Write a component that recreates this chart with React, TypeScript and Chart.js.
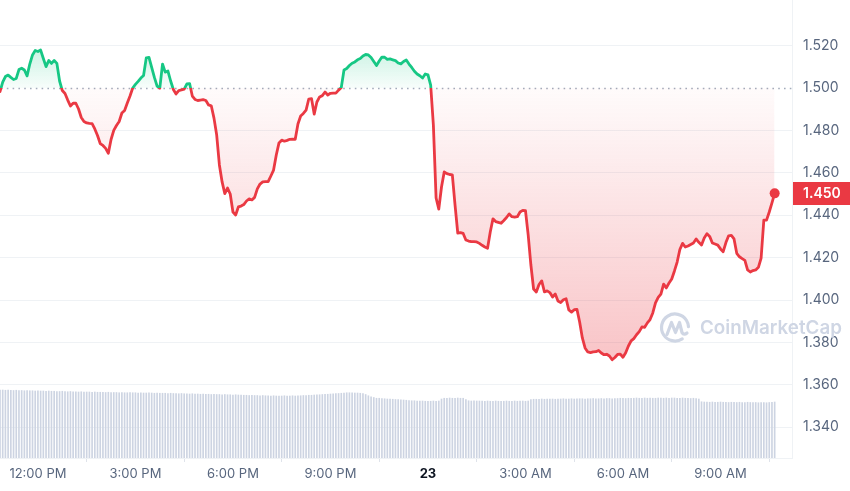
import React, { useEffect, useRef } from 'react';
import { Chart, registerables } from 'chart.js';

Chart.register(...registerables);

// 5-minute price samples, from 10:50 AM (day 22) to 10:40 AM (day 23)
const prices: number[] = [
  1.4983, 1.5028, 1.5054, 1.5061, 1.5050, 1.5040, 1.5045, 1.5087, 1.5093, 1.5085,
  1.5057, 1.5113, 1.5156, 1.5177, 1.5172, 1.5179, 1.5139, 1.5101, 1.5130, 1.5116,
  1.5130, 1.5116, 1.5033, 1.4988, 1.4974, 1.4943, 1.4915, 1.4928, 1.4928, 1.4901,
  1.4861, 1.4842, 1.4835, 1.4833, 1.4832, 1.4807, 1.4776, 1.4738, 1.4729, 1.4715,
  1.4692, 1.4757, 1.4800, 1.4823, 1.4842, 1.4882, 1.4894, 1.4929, 1.4962, 1.5000,
  1.5017, 1.5031, 1.5047, 1.5059, 1.5142, 1.5144, 1.5097, 1.5050, 1.5009, 1.4999,
  1.5113, 1.5075, 1.5080, 1.5033, 1.4993, 1.4972, 1.4988, 1.4991, 1.4995, 1.5019,
  1.5021, 1.4962, 1.4946, 1.4941, 1.4943, 1.4945, 1.4941, 1.4920, 1.4916, 1.4858,
  1.4778, 1.4637, 1.4557, 1.4502, 1.4528, 1.4500, 1.4415, 1.4401, 1.4439, 1.4443,
  1.4450, 1.4467, 1.4477, 1.4472, 1.4484, 1.4524, 1.4547, 1.4557, 1.4558, 1.4558,
  1.4585, 1.4613, 1.4684, 1.4741, 1.4754, 1.4749, 1.4753, 1.4758, 1.4759, 1.4758,
  1.4830, 1.4868, 1.4880, 1.4896, 1.4948, 1.4950, 1.4877, 1.4934, 1.4958, 1.4964,
  1.4981, 1.4967, 1.4975, 1.4976, 1.4976, 1.4990, 1.5002, 1.5085, 1.5092, 1.5106,
  1.5117, 1.5123, 1.5133, 1.5139, 1.5151, 1.5158, 1.5156, 1.5144, 1.5125, 1.5106,
  1.5127, 1.5146, 1.5145, 1.5135, 1.5137, 1.5133, 1.5129, 1.5118, 1.5114, 1.5125,
  1.5132, 1.5113, 1.5097, 1.5079, 1.5066, 1.5058, 1.5047, 1.5066, 1.5062, 1.5014,
  1.4825, 1.4481, 1.4429, 1.4533, 1.4604, 1.4596, 1.4592, 1.4590, 1.4448, 1.4316,
  1.4318, 1.4314, 1.4283, 1.4278, 1.4275, 1.4275, 1.4274, 1.4267, 1.4258, 1.4250,
  1.4244, 1.4321, 1.4383, 1.4370, 1.4366, 1.4362, 1.4375, 1.4389, 1.4406, 1.4393,
  1.4391, 1.4393, 1.4415, 1.4423, 1.4422, 1.4307, 1.4165, 1.4052, 1.4038, 1.4073,
  1.4090, 1.4038, 1.4043, 1.4035, 1.4014, 1.4028, 1.3995, 1.3988, 1.4001, 1.4006,
  1.3953, 1.3943, 1.3954, 1.3956, 1.3896, 1.3821, 1.3774, 1.3755, 1.3752, 1.3755,
  1.3756, 1.3762, 1.3750, 1.3742, 1.3744, 1.3736, 1.3718, 1.3729, 1.3743, 1.3745,
  1.3730, 1.3751, 1.3783, 1.3807, 1.3818, 1.3836, 1.3851, 1.3873, 1.3871, 1.3892,
  1.3908, 1.3939, 1.3986, 1.4012, 1.4028, 1.4075, 1.4057, 1.4080, 1.4099, 1.4137,
  1.4179, 1.4238, 1.4267, 1.4250, 1.4255, 1.4262, 1.4269, 1.4288, 1.4272, 1.4259,
  1.4292, 1.4313, 1.4300, 1.4269, 1.4264, 1.4259, 1.4241, 1.4228, 1.4271, 1.4303,
  1.4305, 1.4288, 1.4220, 1.4204, 1.4195, 1.4187, 1.4142, 1.4132, 1.4139, 1.4142,
  1.4154, 1.4198, 1.4377, 1.4377, 1.4415, 1.4458, 1.4503,
];

// 5-minute volume samples (millions), same timestamps
const volumes: number[] = [
  27.2, 27.2, 27.1, 27.2, 27.1, 27.0, 27.1, 27.0, 27.0, 26.9, 27.0, 26.9, 26.9, 26.8, 26.9, 26.8, 26.8, 26.7, 26.8, 26.7,
  26.7, 26.6, 26.6, 26.7, 26.6, 26.5, 26.6, 26.5, 26.5, 26.4, 26.5, 26.4, 26.4, 26.4, 26.3, 26.4, 26.3, 26.3, 26.3, 26.2,
  26.3, 26.2, 26.2, 26.2, 26.1, 26.2, 26.1, 26.1, 26.2, 26.1, 26.1, 26.0, 26.1, 26.0, 26.0, 26.1, 26.0, 25.9, 26.0, 25.9,
  25.9, 25.9, 25.8, 25.9, 25.8, 25.8, 25.7, 25.8, 25.7, 25.7, 25.6, 25.7, 25.6, 25.6, 25.5, 25.6, 25.5, 25.5, 25.4, 25.5,
  25.4, 25.4, 25.3, 25.4, 25.3, 25.3, 25.2, 25.3, 25.2, 25.2,
  25.1, 25.1, 25.0, 25.1, 25.0, 25.0, 24.9, 25.0, 24.9, 24.9, 24.8, 24.9, 24.8, 24.8, 24.8, 24.9, 24.8, 24.8, 24.9, 24.8,
  24.9, 24.9, 25.0,
  25.0, 25.1, 25.1, 25.2, 25.3, 25.3, 25.4, 25.5, 25.5, 25.6, 25.7, 25.8, 25.8, 25.9, 26.0, 26.1,
  26.1, 26.1, 26.0, 26.0, 25.9, 25.8,
  25.4, 24.9, 24.5, 24.2,
  23.9, 23.9, 23.8, 23.7, 23.6, 23.6, 23.5, 23.4, 23.4, 23.3, 23.2, 23.1,
  23.0, 22.9, 22.9, 22.8, 22.8, 22.8, 22.7, 22.7, 22.7, 22.8, 22.7, 22.8,
  23.6, 23.9, 23.9, 24.0, 23.9, 23.9, 24.0, 23.9, 23.9, 23.4,
  22.9, 22.8, 22.9, 22.8, 22.8, 22.8, 22.7, 22.8, 22.7, 22.7, 22.8, 22.7, 22.7, 22.7, 22.8, 22.7, 22.7, 22.8, 22.7, 22.8,
  22.8, 22.7, 22.8,
  23.4, 23.5, 23.5, 23.5, 23.6, 23.5, 23.6, 23.6, 23.6, 23.5, 23.6, 23.6, 23.7, 23.6, 23.6, 23.7, 23.6, 23.7, 23.7, 23.7,
  23.6, 23.7, 23.7, 23.8, 23.7, 23.7, 23.8, 23.7, 23.8, 23.8, 23.7, 23.8, 23.8,
  23.9, 23.9, 23.8, 23.9, 23.9, 23.9, 24.0, 23.9, 23.9, 24.0, 23.9, 24.0, 23.9, 23.9, 24.0, 24.0, 23.9, 24.0, 23.9, 24.0,
  24.0, 23.9, 23.9, 24.0, 23.9, 23.9, 23.8, 23.9, 23.8, 23.6,
  22.5, 22.4, 22.4, 22.3, 22.4, 22.3, 22.3, 22.4, 22.3, 22.3, 22.2, 22.3, 22.3, 22.2, 22.3, 22.2, 22.2, 22.3, 22.2, 22.2,
  22.2, 22.1, 22.2, 22.2, 22.1, 22.2, 22.3, 22.4,
];

// x tick positions (sample index) and their labels
const tickIndex: number[] = [14, 50, 86, 122, 158, 194, 230, 266];
const tickLabels: string[] = ['12:00 PM', '3:00 PM', '6:00 PM', '9:00 PM', '23', '3:00 AM', '6:00 AM', '9:00 AM'];
const dayTick = '23';
const priceTicks: number[] = [1.34, 1.36, 1.38, 1.4, 1.42, 1.44, 1.46, 1.48, 1.5, 1.52];
const baseline = 1.5;

const GREEN = '#16c784';
const RED = '#ea3943';
const AXIS_TEXT = '#58667e';
const GRID = '#eff2f5';
const WATERMARK = '#cfd6e4';

export default function App() {
  const ref = useRef<HTMLCanvasElement>(null);

  useEffect(() => {
    document.body.style.margin = '0';
    const canvas = ref.current;
    if (!canvas) return;
    Chart.defaults.font.family = 'Inter, "Noto Sans", sans-serif';
    const last = prices.length - 1;

    const cmcPlugin = {
      id: 'cmcDecor',
      beforeDatasetsDraw(chart: any) {
        const { ctx, chartArea, scales } = chart;
        const yb = Math.round(scales.y.getPixelForValue(baseline)) + 0.5;
        ctx.save();
        ctx.strokeStyle = '#a3acbb';
        ctx.lineWidth = 1.4;
        ctx.setLineDash([1.6, 4.2]);
        ctx.beginPath();
        ctx.moveTo(chartArea.left + 1, yb);
        ctx.lineTo(chartArea.right, yb);
        ctx.stroke();
        ctx.restore();

        // watermark
        ctx.save();
        const cx = 675, cy = 327.5, r = 13.5;
        ctx.strokeStyle = WATERMARK;
        ctx.lineWidth = 3.2;
        ctx.lineCap = 'round';
        ctx.lineJoin = 'round';
        ctx.beginPath();
        ctx.arc(cx, cy, r, 0.32 * Math.PI, 1.98 * Math.PI);
        ctx.stroke();
        ctx.beginPath();
        ctx.moveTo(cx - 8, cy + 7);
        ctx.lineTo(cx - 3.5, cy - 5);
        ctx.lineTo(cx + 0.5, cy + 5);
        ctx.lineTo(cx + 4.5, cy - 5);
        ctx.lineTo(cx + 7, cy + 5);
        ctx.quadraticCurveTo(cx + 9, cy + 8, cx + 12, cy + 5.5);
        ctx.stroke();
        const text = 'CoinMarketCap';
        ctx.font = '600 18px Inter, sans-serif';
        const w = ctx.measureText(text).width;
        const size = 18 * 142 / w;
        ctx.font = `600 ${size.toFixed(2)}px Inter, sans-serif`;
        ctx.fillStyle = WATERMARK;
        ctx.textBaseline = 'middle';
        ctx.fillText(text, 700, 328);
        ctx.restore();
      },
      afterDraw(chart: any) {
        const { ctx, chartArea, scales } = chart;
        const v = prices[last];
        const y = scales.y.getPixelForValue(v);
        ctx.save();
        ctx.fillStyle = RED;
        ctx.fillRect(chartArea.right + 1, Math.round(y - 11.5), 850 - chartArea.right - 1, 23);
        ctx.fillStyle = '#ffffff';
        ctx.font = '600 14px Inter, sans-serif';
        ctx.textBaseline = 'middle';
        ctx.fillText(v.toFixed(3), chartArea.right + 11, y + 0.5);
        ctx.restore();
      },
    };

    const chart = new Chart(canvas, {
      type: 'line',
      data: {
        datasets: [
          {
            type: 'line',
            data: prices.map((p, i) => ({ x: i, y: p })),
            borderColor: GREEN,
            borderWidth: 2.8,
            tension: 0,
            borderJoinStyle: 'round',
            borderCapStyle: 'round',
            pointRadius: (c: any) => (c.dataIndex === last ? 5 : 0),
            pointBackgroundColor: RED,
            pointBorderWidth: 0,
            pointHoverRadius: 0,
            fill: { value: baseline, above: 'rgba(22,199,132,0.1)', below: 'rgba(234,57,67,0.1)' },
            yAxisID: 'y',
            order: 0,
            clip: false,
          } as any,
          {
            type: 'bar',
            data: volumes.map((v, i) => ({ x: i, y: v })),
            backgroundColor: '#cdd4e2',
            barThickness: 1,
            yAxisID: 'y1',
            order: 1,
          } as any,
        ],
      },
      options: {
        responsive: false,
        animation: false,
        events: [],
        layout: { padding: 0, autoPadding: false },
        plugins: { legend: { display: false }, tooltip: { enabled: false } },
        scales: {
          x: {
            type: 'linear',
            min: 0,
            max: 292.4,
            offset: false,
            grid: { drawOnChartArea: false, drawTicks: true, tickLength: 4, color: '#dfe3ea' },
            border: { display: true, color: GRID },
            afterBuildTicks: (axis: any) => {
              axis.ticks = tickIndex.map((v) => ({ value: v }));
            },
            afterFit: (scale: any) => {
              scale.height = 33;
              scale.paddingLeft = 0;
              scale.paddingRight = 0;
            },
            ticks: {
              autoSkip: false,
              maxRotation: 0,
              padding: 4,
              callback: (_v: any, i: number) => tickLabels[i],
              color: (c: any) => (c.tick && tickLabels[c.index] === dayTick ? '#0d1421' : AXIS_TEXT),
              font: (c: any) =>
                c.tick && tickLabels[c.index] === dayTick
                  ? { size: 13, weight: 'bold' }
                  : { size: 13, weight: 'normal' },
            },
          },
          y: {
            type: 'linear',
            position: 'right',
            min: 1.5 - (458 - 88) / 2120,
            max: 1.5 + 88 / 2120,
            grid: {
              drawTicks: false,
              color: (c: any) => (c.tick && Math.abs(c.tick.value - baseline) < 1e-9 ? 'rgba(0,0,0,0)' : GRID),
            },
            border: { display: true, color: GRID },
            afterBuildTicks: (axis: any) => {
              axis.ticks = priceTicks.map((v) => ({ value: v }));
            },
            afterFit: (scale: any) => {
              scale.width = 58;
              scale.paddingTop = 0;
              scale.paddingBottom = 0;
            },
            ticks: {
              padding: 11,
              color: AXIS_TEXT,
              font: { size: 14 },
              callback: (v: any) => Number(v).toFixed(3),
            },
          },
          y1: {
            type: 'linear',
            display: false,
            min: 0,
            max: 183.2,
          },
        },
      } as any,
      plugins: [cmcPlugin],
    });

    // gradients depend on the laid-out scale
    const { ctx, chartArea, scales } = chart as any;
    const yb = scales.y.getPixelForValue(baseline);
    const t = (yb - chartArea.top) / (chartArea.bottom - chartArea.top);
    const lineGrad = ctx.createLinearGradient(0, chartArea.top, 0, chartArea.bottom);
    lineGrad.addColorStop(0, GREEN);
    lineGrad.addColorStop(t, GREEN);
    lineGrad.addColorStop(t, RED);
    lineGrad.addColorStop(1, RED);
    const aboveGrad = ctx.createLinearGradient(0, scales.y.getPixelForValue(1.52), 0, yb);
    aboveGrad.addColorStop(0, 'rgba(22,199,132,0.24)');
    aboveGrad.addColorStop(1, 'rgba(22,199,132,0.03)');
    const belowGrad = ctx.createLinearGradient(0, yb, 0, scales.y.getPixelForValue(1.37));
    belowGrad.addColorStop(0, 'rgba(234,57,67,0.02)');
    belowGrad.addColorStop(1, 'rgba(234,57,67,0.30)');
    const ds: any = chart.data.datasets[0];
    ds.borderColor = lineGrad;
    ds.fill = { value: baseline, above: aboveGrad, below: belowGrad };
    chart.update('none');

    return () => chart.destroy();
  }, []);

  return (
    <div style={{ width: 850, height: 491 }}>
      <canvas ref={ref} width={850} height={491} style={{ display: 'block' }} />
    </div>
  );
}
